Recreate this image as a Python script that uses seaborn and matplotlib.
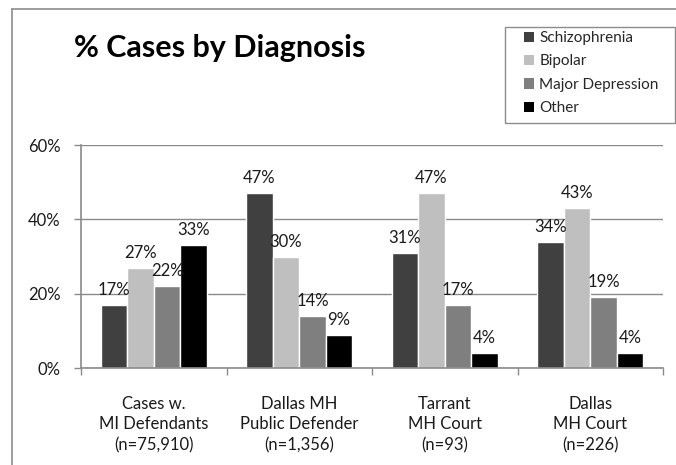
import matplotlib
matplotlib.use("Agg")
import matplotlib.pyplot as plt
import seaborn as sns
import pandas as pd
from matplotlib.lines import Line2D
from matplotlib.patches import Patch, Rectangle

categories = ["Cases w.\nMI Defendants\n(n=75,910)",
              "Dallas MH\nPublic Defender\n(n=1,356)",
              "Tarrant\nMH Court\n(n=93)",
              "Dallas\nMH Court\n(n=226)"]
diagnoses = ["Schizophrenia", "Bipolar", "Major Depression", "Other"]
schizophrenia = [17, 47, 31, 34]
bipolar = [27, 30, 47, 43]
major_depression = [22, 14, 17, 19]
other = [33, 9, 4, 4]
colors = ["#404040", "#BFBFBF", "#7F7F7F", "#000000"]
yticks = [0, 20, 40, 60]
ytick_labels = ["0%", "20%", "40%", "60%"]

series = [schizophrenia, bipolar, major_depression, other]
rows = []
for d, vals in zip(diagnoses, series):
    for c, v in zip(categories, vals):
        rows.append({"Category": c, "Diagnosis": d, "Value": v})
df = pd.DataFrame(rows)

sns.set_theme(style="white")
plt.rcParams["font.family"] = ["Lato", "DejaVu Sans"]

W, H = 676, 465
fig = plt.figure(figsize=(W / 100, H / 100), dpi=100)
ax = fig.add_axes([81 / W, 1 - 368 / H, (663 - 81) / W, (368 - 145) / H])

sns.barplot(data=df, x="Category", y="Value", hue="Diagnosis",
            order=categories, hue_order=diagnoses, palette=colors,
            width=0.73, saturation=1, ax=ax, legend=False, errorbar=None)

for cont in ax.containers:
    ax.bar_label(cont, labels=[f"{v:.0f}%" for v in cont.datavalues],
                 padding=5, fontsize=12, color="#1a1a1a")

ax.set_ylim(0, 60)
ax.set_xlim(-0.5, 3.5)
ax.set_yticks(yticks)
ax.set_yticklabels(ytick_labels, fontsize=12, color="#1a1a1a")
ax.yaxis.grid(True, color="#8a8a8a", linewidth=1)
ax.set_axisbelow(True)
ax.set_xlabel("")
ax.set_ylabel("")
ax.tick_params(axis="y", which="major", left=True, length=5, width=1,
               color="#8a8a8a", pad=9.5)
ax.tick_params(axis="x", which="major", length=0, pad=20, labelsize=12,
               labelcolor="#1a1a1a")
ax.set_xticks([-0.5, 0.5, 1.5, 2.5, 3.5], minor=True)
ax.tick_params(axis="x", which="minor", bottom=True, length=5, width=1,
               color="#8a8a8a")
for lab in ax.get_xticklabels():
    lab.set_linespacing(1.35)
for s in ["top", "right"]:
    ax.spines[s].set_visible(False)
for s in ["left", "bottom"]:
    ax.spines[s].set_color("#8a8a8a")
    ax.spines[s].set_linewidth(1.2)

# outer chart frame (partially cropped)
fig.add_artist(Line2D([12 / W, 12 / W], [0, 1 - 9 / H], transform=fig.transFigure,
                      color="#8c8c8c", linewidth=1.2))
fig.add_artist(Line2D([12 / W, 1], [1 - 9 / H, 1 - 9 / H], transform=fig.transFigure,
                      color="#8c8c8c", linewidth=1.2))

fig.text(74 / W, 1 - 57 / H, "% Cases by Diagnosis", fontsize=22,
         fontweight="bold", ha="left", va="baseline", color="#000000")

# legend box
fig.add_artist(Rectangle((505 / W, 1 - 123 / H), (675 - 505) / W, (123 - 27) / H,
                         transform=fig.transFigure, facecolor="white",
                         edgecolor="#8c8c8c", linewidth=1))
handles = [Patch(facecolor=c, edgecolor="none") for c in colors]
leg = fig.legend(handles, diagnoses, loc="upper left",
                 bbox_to_anchor=(524 / W, 1 - 31 / H), frameon=False,
                 fontsize=11, handlelength=0.65, handleheight=0.65,
                 handletextpad=0.35, labelspacing=0.62, borderpad=0,
                 borderaxespad=0)
leg.set_zorder(5)

fig.savefig("out.png", dpi=100, facecolor="white")
